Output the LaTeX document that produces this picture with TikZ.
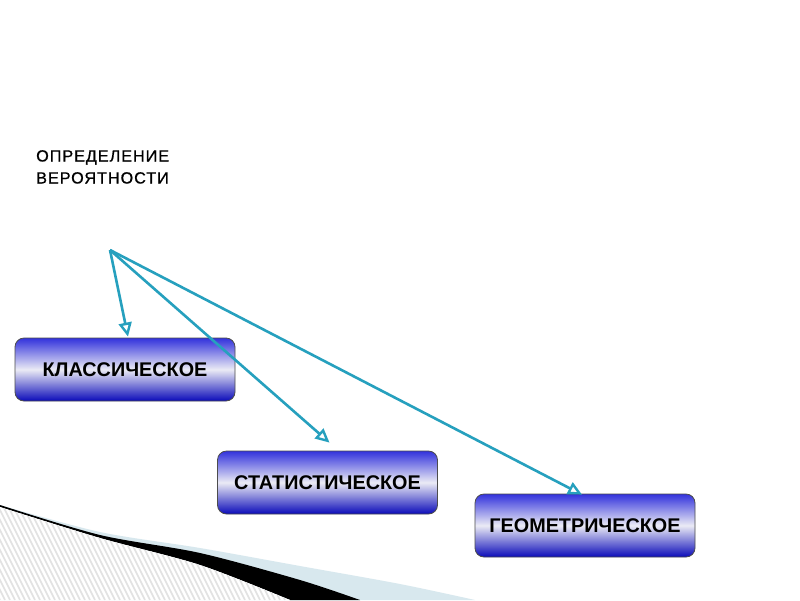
\documentclass[tikz,border=0pt]{standalone}
\usepackage{fontspec}
\setmainfont{Liberation Sans}
\newfontfamily\titlefont[LetterSpace=6,FakeBold=0.8]{Liberation Sans}
\usetikzlibrary{arrows.meta}
\definecolor{arrowteal}{RGB}{38,160,190}
\definecolor{boxtop}{RGB}{50,50,220}
\definecolor{boxmid}{RGB}{235,235,245}
\definecolor{boxbot}{RGB}{10,10,185}
\definecolor{bandblue}{RGB}{216,232,238}
\definecolor{hatchgrey}{RGB}{226,226,226}
\tikzset{
  box/.style={rectangle, rounded corners=9pt, draw=black!70, line width=0.8pt,
    minimum width=220pt, minimum height=63pt, inner sep=0pt,
    top color=boxtop, bottom color=boxbot, middle color=boxmid,
    font=\fontsize{19.8}{22}\selectfont\bfseries},
  link/.style={draw=arrowteal, line width=2.6pt,
    -{Triangle[open, length=14pt, width=13pt, line width=2.4pt]}},
  title/.style={align=left, anchor=north west, inner sep=0pt,
    font=\titlefont\fontsize{16.2}{22}\selectfont}
}
\begin{document}
\begin{tikzpicture}[x=1pt,y=-1pt]
\useasboundingbox (0,0) rectangle (800,600);
\fill[white] (0,0) rectangle (800,600);
% bottom-left decoration
\fill[bandblue] plot[smooth] coordinates {(0,505) (100,532) (200,548) (300,566) (400,584) (475,600)} -- (0,600) -- cycle;
\fill[black] plot[smooth] coordinates {(0,505) (100,535) (200,553) (300,580) (360,600)}
  -- plot[smooth] coordinates {(290,600) (200,565) (100,538) (0,507)} -- cycle;
\fill[white] plot[smooth] coordinates {(0,507) (100,538) (200,565) (290,600)} -- (0,600) -- cycle;
\begin{scope}
\clip plot[smooth] coordinates {(0,507) (100,538) (200,565) (290,600)} -- (0,600) -- cycle;
\foreach \i in {-60,-55,...,300} {
  \draw[hatchgrey, line width=1.6pt] (\i,500) -- (\i+50,600);
}
\end{scope}
% title
\node[title] (t) at (36,150) {ОПРЕДЕЛЕНИЕ\\ВЕРОЯТНОСТИ};
% boxes
\node[box] (b1) at (125,369.5) {КЛАССИЧЕСКОЕ};
\node[box] (b2) at (327.5,482.5) {СТАТИСТИЧЕСКОЕ};
\node[box] (b3) at (585,525.5) {ГЕОМЕТРИЧЕСКОЕ};
\coordinate (o) at (110,250);
\draw[link] (o) -- ([shift={(3,-1)}]b1.north);
\draw[link] (o) -- ([shift={(2,-8)}]b2.north);
\draw[link] (o) -- ([shift={(-3,1)}]b3.north);
\end{tikzpicture}
\end{document}
